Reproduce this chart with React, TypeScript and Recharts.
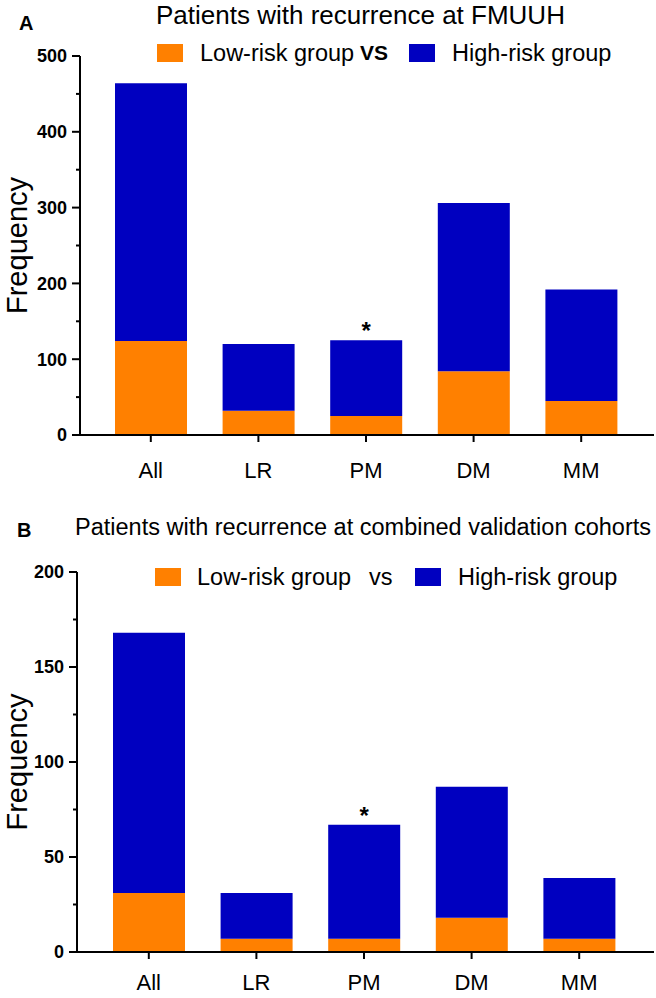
import React from 'react';
import { BarChart, Bar, XAxis, YAxis, Legend, LabelList } from 'recharts';

const categories = ['All', 'LR', 'PM', 'DM', 'MM'];
const significance = ['', '', '*', '', ''];

// panel A - patients with recurrence at FMUUH
const lowRiskFMUUH = [124, 32, 25, 84, 45];
const highRiskFMUUH = [340, 88, 100, 222, 147];
const yTicksFMUUH = [0, 50, 100, 150, 200, 250, 300, 350, 400, 450, 500];

// panel B - combined validation cohorts
const lowRiskValidation = [31, 7, 7, 18, 7];
const highRiskValidation = [137, 24, 60, 69, 32];
const yTicksValidation = [0, 25, 50, 75, 100, 125, 150, 175, 200];

const ORANGE = '#FF8000';
const BLUE = '#0000C0';
const FONT = '"Liberation Sans", Arial, Helvetica, sans-serif';

const buildData = (low: number[], high: number[]) =>
    categories.map((name, i) => ({
        name,
        low: low[i],
        high: high[i],
        sig: significance[i] || undefined,
    }));

const dataFMUUH = buildData(lowRiskFMUUH, highRiskFMUUH);
const dataValidation = buildData(lowRiskValidation, highRiskValidation);

// y ticks: long tick + bold label on major values, short tick on minor ones
const YTick = (props: any) => {
    const { x, y, payload, major } = props;
    const isMajor = payload.value % major === 0;
    const axisX = x + 5 + 8;
    return (
        <g>
            <line x1={axisX - (isMajor ? 8 : 4)} x2={axisX} y1={y} y2={y} stroke="#000" strokeWidth={2} />
            {isMajor && (
                <text x={x} y={y} dy="0.36em" textAnchor="end" fontSize={18} fontWeight="bold" fontFamily={FONT} fill="#000">
                    {payload.value}
                </text>
            )}
        </g>
    );
};

const FreqLabel = (props: any) => {
    const vb = props.viewBox || {};
    const cx = 27;
    const cy = vb.y + vb.height / 2;
    return (
        <text x={cx} y={cy} transform={`rotate(-90, ${cx}, ${cy})`} textAnchor="middle" fontSize={29} fontFamily={FONT} fill="#000">
            Frequency
        </text>
    );
};

const Asterisk = (props: any) => {
    const vb = props.viewBox || props;
    const { value } = props;
    if (!value) return null;
    return (
        <text x={vb.x + vb.width / 2} y={vb.y - 1} textAnchor="middle" fontSize={24} fontWeight="bold" fontFamily={FONT} fill="#000">
            {value}
        </text>
    );
};

interface LegendRowProps {
    left: number;
    top: number;
    sep: string;
    sepBold: boolean;
    offsets: number[];
}

const LegendRow: React.FC<LegendRowProps> = ({ left, top, sep, sepBold, offsets }) => {
    const item: React.CSSProperties = { position: 'absolute', top: 0, height: 24, display: 'flex', alignItems: 'center', whiteSpace: 'nowrap' };
    const swatch: React.CSSProperties = { position: 'absolute', top: 3, width: 26, height: 18 };
    return (
        <div style={{ position: 'absolute', left, top, height: 24, width: 500, fontFamily: FONT, fontSize: 23.5, color: '#000' }}>
            <span style={{ ...swatch, left: offsets[0], background: ORANGE }} />
            <span style={{ ...item, left: offsets[1] }}>Low-risk group</span>
            <span style={{ ...item, left: offsets[2], fontWeight: sepBold ? 'bold' : 'normal', fontSize: sepBold ? 21 : 23.5 }}>{sep}</span>
            <span style={{ ...swatch, left: offsets[3], background: BLUE }} />
            <span style={{ ...item, left: offsets[4] }}>High-risk group</span>
        </div>
    );
};

interface PanelProps {
    data: ReturnType<typeof buildData>;
    yTicks: number[];
    yMax: number;
    major: number;
    height: number;
    margin: { top: number; right: number; left: number; bottom: number };
    padding: { left: number; right: number };
    labelGap: number;
    legend: React.ReactNode;
}

const Panel: React.FC<PanelProps> = ({ data, yTicks, yMax, major, height, margin, padding, labelGap, legend }) => (
    <BarChart width={656} height={height} data={data} margin={margin}>
        <XAxis
            dataKey="name"
            interval={0}
            height={40}
            padding={padding}
            tickSize={7}
            tickMargin={labelGap}
            tick={{ fontSize: 22, fill: '#000', fontFamily: FONT }}
            tickLine={{ stroke: '#000', strokeWidth: 2 }}
            axisLine={{ stroke: '#000', strokeWidth: 2 }}
        />
        <YAxis
            width={60}
            domain={[0, yMax]}
            ticks={yTicks}
            interval={0}
            tickSize={8}
            tickMargin={5}
            tickLine={false}
            axisLine={{ stroke: '#000', strokeWidth: 2 }}
            tick={(p: any) => <YTick {...p} major={major} />}
            label={<FreqLabel />}
        />
        <Legend verticalAlign="middle" align="center" layout="horizontal" wrapperStyle={{ left: 0, top: 0, width: 656, height: 0 }} content={() => legend} />
        <Bar dataKey="low" stackId="g" fill={ORANGE} barSize={72} isAnimationActive={false} />
        <Bar dataKey="high" stackId="g" fill={BLUE} barSize={72} isAnimationActive={false}>
            <LabelList dataKey="sig" content={<Asterisk />} />
        </Bar>
    </BarChart>
);

const App: React.FC = () => (
    <div style={{ position: 'absolute', left: 0, top: 0, width: 656, height: 998, background: '#fff', fontFamily: FONT, overflow: 'hidden' }}>
        <div style={{ position: 'absolute', left: 19, top: 13, fontSize: 20, fontWeight: 'bold', lineHeight: 1 }}>A</div>
        <div style={{ position: 'absolute', left: 156, top: 2, fontSize: 26, lineHeight: 1, whiteSpace: 'nowrap' }}>
            Patients with recurrence at FMUUH
        </div>
        <div style={{ position: 'absolute', left: 0, top: 0 }}>
            <Panel
                data={dataFMUUH}
                yTicks={yTicksFMUUH}
                yMax={500}
                major={100}
                height={500}
                margin={{ top: 56, right: 2, left: 20, bottom: 25 }}
                padding={{ left: 17, right: 19 }}
                labelGap={20}
                legend={<LegendRow left={157} top={41} sep="VS" sepBold offsets={[0, 43, 203, 252, 295]} />}
            />
        </div>

        <div style={{ position: 'absolute', left: 17, top: 520, fontSize: 20, fontWeight: 'bold', lineHeight: 1 }}>B</div>
        <div style={{ position: 'absolute', left: 75, top: 516, fontSize: 23.5, lineHeight: 1, whiteSpace: 'nowrap' }}>
            Patients with recurrence at combined validation cohorts
        </div>
        <div style={{ position: 'absolute', left: 0, top: 500 }}>
            <Panel
                data={dataValidation}
                yTicks={yTicksValidation}
                yMax={200}
                major={50}
                height={498}
                margin={{ top: 72, right: 2, left: 17, bottom: 6 }}
                padding={{ left: 18, right: 21 }}
                labelGap={15}
                legend={<LegendRow left={155} top={65} sep="vs" sepBold={false} offsets={[0, 42, 214, 260, 303]} />}
            />
        </div>
    </div>
);

export default App;
